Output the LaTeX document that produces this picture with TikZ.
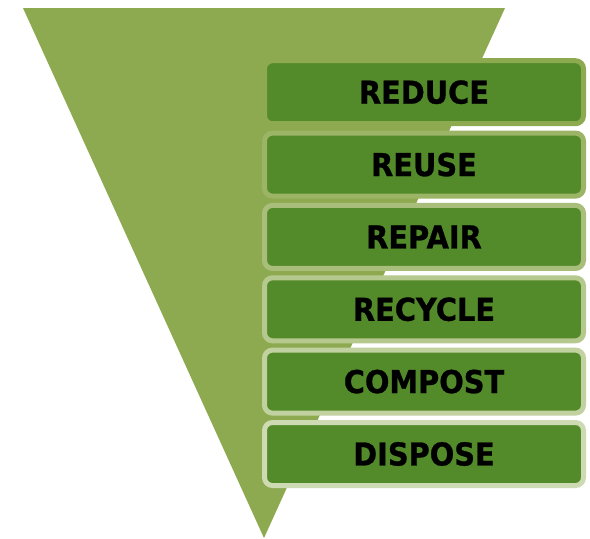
\documentclass[tikz,border=0pt]{standalone}
\usepackage{fontspec}
\newfontfamily\boxfont[FakeStretch=0.915,FakeBold=0.8]{DejaVu Sans Bold}
\definecolor{trigreen}{HTML}{8DAA50}
\definecolor{boxgreen}{HTML}{538A2A}
\begin{document}
\begin{tikzpicture}[x=1pt,y=-1pt,
  tier/.style={draw=#1, line width=5pt, fill=boxgreen, rounded corners=8pt,
    minimum width=319pt, minimum height=63pt, inner sep=0pt,
    font=\boxfont\fontsize{31.5}{36}\selectfont, text=black}]
\useasboundingbox (0,0) rectangle (590,539);
\fill[trigreen] (23,8) coordinate (tl) -- (505,8) coordinate (tr) -- (264,538) coordinate (apex) -- cycle;
\node[tier=trigreen] (reduce) at (424,92.2) {REDUCE};
\node[tier=trigreen!88!white] (reuse) at (424,164.6) {REUSE};
\node[tier=trigreen!76!white] (repair) at (424,236.9) {REPAIR};
\node[tier=trigreen!65!white] (recycle) at (424,309.3) {RECYCLE};
\node[tier=trigreen!54!white] (compost) at (424,381.6) {COMPOST};
\node[tier=trigreen!44!white] (dispose) at (424,454) {DISPOSE};
\end{tikzpicture}
\end{document}
